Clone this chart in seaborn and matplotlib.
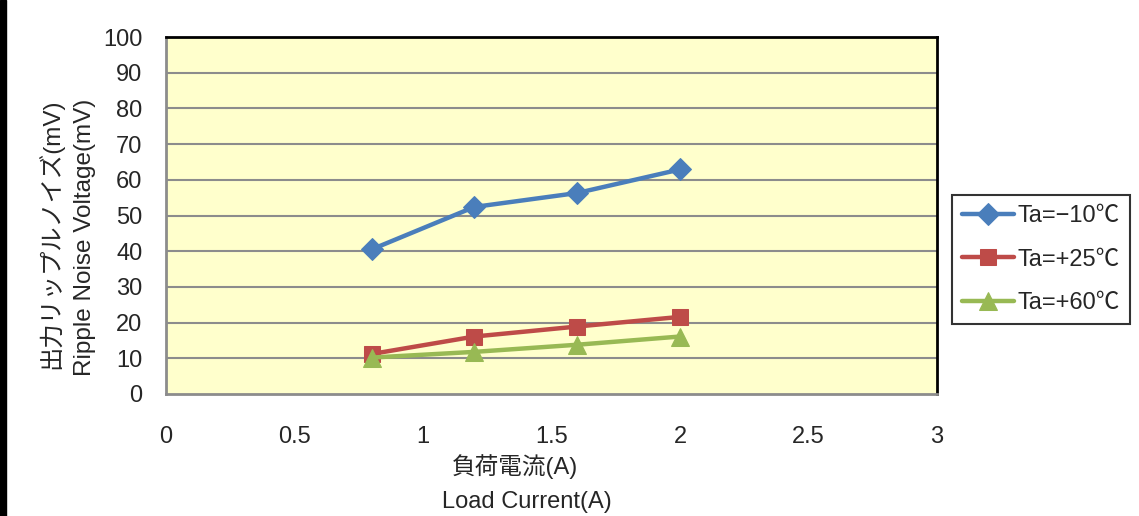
import matplotlib
matplotlib.use("Agg")
import matplotlib.pyplot as plt
import seaborn as sns
import pandas as pd
from matplotlib.patches import Rectangle

load_current = [0.8, 1.2, 1.6, 2.0]
ripple_m10 = [40.5, 52.4, 56.3, 62.9]
ripple_p25 = [11.2, 16.1, 18.9, 21.6]
ripple_p60 = [10.2, 11.8, 13.8, 16.1]
series_labels = ["Ta=\u221210\u2103", "Ta=+25\u2103", "Ta=+60\u2103"]
x_ticks = [0, 0.5, 1, 1.5, 2, 2.5, 3]
x_tick_labels = ["0", "0.5", "1", "1.5", "2", "2.5", "3"]
y_ticks = list(range(0, 101, 10))

sns.set_theme(style="white")
fam = ['Liberation Sans', 'Noto Sans CJK JP', 'DejaVu Sans']
plt.rcParams['font.family'] = fam

fig = plt.figure(figsize=(11.39, 5.16), dpi=100)
ax = fig.add_axes([166/1139, 1-394/516, (937-166)/1139, (394-37)/516])
ax.set_facecolor("#FFFFCC")

colors = ["#4A7EBB", "#BE4B48", "#98B954"]
markers = ["D", "s", "^"]
msizes = [11, 12, 13]
for vals, lab, c, m, ms in zip([ripple_m10, ripple_p25, ripple_p60], series_labels, colors, markers, msizes):
    df = pd.DataFrame({"x": load_current, "y": vals})
    sns.lineplot(data=df, x="x", y="y", ax=ax, color=c, marker=m, markersize=ms,
                 markeredgecolor=c, linewidth=3.2, label=lab)

ax.set_xlim(0, 3)
ax.set_ylim(0, 100)
ax.set_xticks(x_ticks)
ax.set_xticklabels(x_tick_labels)
ax.set_yticks(y_ticks)
for y in y_ticks[1:-1]:
    ax.axhline(y, color="#8C8C8C", linewidth=1.5, zorder=0.5)
ax.tick_params(axis="x", direction="in", length=7, width=1.2, color="#8C8C8C", pad=23, labelsize=17)
ax.tick_params(axis="y", length=0, pad=17, labelsize=17)
for s in ["top", "right"]:
    ax.spines[s].set_color("black")
    ax.spines[s].set_linewidth(2)
for s in ["left", "bottom"]:
    ax.spines[s].set_color("#8C8C8C")
    ax.spines[s].set_linewidth(2)
ax.set_xlabel("")
ax.set_ylabel("")

fig.text(50/1139, 1-234/516, "出力リップルノイズ(mV)", rotation=90, ha="center", va="center", fontsize=17.5, family=fam)
fig.text(85/1139, 1-237/516, "Ripple Noise Voltage(mV)", rotation=90, ha="center", va="center", fontsize=17.5, family=fam)
fig.text(515/1139, 1-467/516, "負荷電流(A)", ha="center", va="center", fontsize=17, family=fam)
fig.text(527/1139, 1-502/516, "Load Current(A)", ha="center", va="center", fontsize=17, family=fam)

leg = ax.legend(loc="upper left", bbox_to_anchor=(952/1139, 1-195/516), bbox_transform=fig.transFigure,
                frameon=True, fancybox=False, edgecolor="black",
                handlelength=2.2, labelspacing=0.92, borderpad=0.42, handletextpad=0.15,
                borderaxespad=0, prop={'family': fam, 'size': 17})
leg.get_frame().set_linewidth(1.5)

fig.patches.append(Rectangle((0, 0), 6/1139, 1, transform=fig.transFigure, color="black", zorder=10))

fig.savefig("out.png", dpi=100)
